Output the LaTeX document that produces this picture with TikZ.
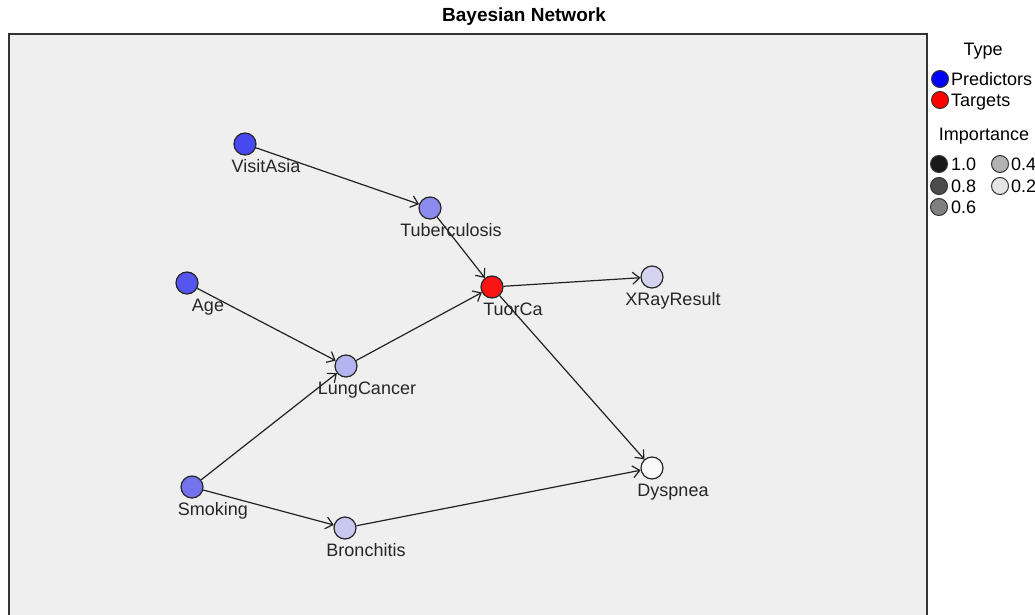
\documentclass[tikz,border=0pt]{standalone}
\usepackage{fontspec}
\setmainfont{Liberation Sans}
\usepackage{tikz}
\usetikzlibrary{arrows.meta}

\definecolor{panelgrey}{RGB}{239,239,239}
\definecolor{edgegrey}{RGB}{34,34,34}
\definecolor{visitasiacol}{RGB}{72,72,240}
\definecolor{agecol}{RGB}{85,85,240}
\definecolor{smokingcol}{RGB}{115,115,235}
\definecolor{tubercol}{RGB}{140,140,240}
\definecolor{lungcol}{RGB}{180,180,240}
\definecolor{bronchcol}{RGB}{200,200,240}
\definecolor{xraycol}{RGB}{212,212,240}
\definecolor{dyspcol}{RGB}{250,250,250}
\definecolor{tuorcacol}{RGB}{250,20,20}

\tikzset{
 bnode/.style={circle, draw=black!85, line width=1.2pt, minimum size=22pt, inner sep=0pt},
 bname/.style={font=\fontsize{18}{18}\selectfont, text=black!85, inner sep=0pt, text height=13pt, text depth=4pt, xshift=21pt, label distance=4pt},
 dep/.style={draw=edgegrey, line width=1.2pt, -{Straight Barb[length=7pt,width=12pt]}},
 keydot/.style={circle, draw=black!80, line width=1pt, minimum size=17pt, inner sep=0pt},
 keytxt/.style={font=\fontsize{18}{18}\selectfont, anchor=base west, inner sep=0pt},
 keyhead/.style={font=\fontsize{18}{18}\selectfont, inner sep=0pt}
}

\begin{document}
\begin{tikzpicture}[x=1pt, y=-1pt]
 \useasboundingbox (0,0) rectangle (1035,615);
 \clip (0,0) rectangle (1035,615);
 \fill[white] (0,0) rectangle (1035,615);

 % title and panel
 \node[font=\bfseries\fontsize{19}{19}\selectfont] (title) at (524,17) {Bayesian Network};
 \draw[fill=panelgrey, draw=black!80, line width=1.5pt] (9,34) rectangle (927,640);

 % network
 \node[bnode, fill=visitasiacol, label={[bname]below:VisitAsia}] (visitasia) at (245,144) {};
 \node[bnode, fill=tubercol, label={[bname]below:Tuberculosis}] (tuber) at (430,208) {};
 \node[bnode, fill=agecol, label={[bname]below:Age}] (age) at (187,283) {};
 \node[bnode, fill=tuorcacol, label={[bname]below:TuorCa}] (tuorca) at (492,287) {};
 \node[bnode, fill=xraycol, label={[bname]below:XRayResult}] (xray) at (652,277) {};
 \node[bnode, fill=lungcol, label={[bname]below:LungCancer}] (lung) at (346,366) {};
 \node[bnode, fill=smokingcol, label={[bname]below:Smoking}] (smoking) at (192,487) {};
 \node[bnode, fill=bronchcol, label={[bname]below:Bronchitis}] (bronch) at (345,528) {};
 \node[bnode, fill=dyspcol, label={[bname]below:Dyspnea}] (dysp) at (652,468) {};

 \draw[dep] (visitasia) -- (tuber);
 \draw[dep] (tuber) -- (tuorca);
 \draw[dep] (age) -- (lung);
 \draw[dep] (lung) -- (tuorca);
 \draw[dep] (smoking) -- (lung);
 \draw[dep] (smoking) -- (bronch);
 \draw[dep] (tuorca) -- (xray);
 \draw[dep] (tuorca) -- (dysp);
 \draw[dep] (bronch) -- (dysp);

 % legend
 \node[keyhead] (typehead) at (983,51) {Type};
 \node[keydot, fill=blue] (predkey) at (940,79) {};
 \node[keytxt] (predtxt) at (951,85.5) {Predictors};
 \node[keydot, fill=red] (targkey) at (940,100) {};
 \node[keytxt] (targtxt) at (951,106.5) {Targets};
 \node[keyhead] (imphead) at (984,136) {Importance};
 \node[keydot, fill=black!90] (imp10) at (939,164) {};
 \node[keytxt] (imp10txt) at (951,170.5) {1.0};
 \node[keydot, fill=black!70] (imp08) at (939,186) {};
 \node[keytxt] (imp08txt) at (951,192.5) {0.8};
 \node[keydot, fill=black!50] (imp06) at (939,207) {};
 \node[keytxt] (imp06txt) at (951,213.5) {0.6};
 \node[keydot, fill=black!30] (imp04) at (1000,164) {};
 \node[keytxt] (imp04txt) at (1011,170.5) {0.4};
 \node[keydot, fill=black!10] (imp02) at (1000,186) {};
 \node[keytxt] (imp02txt) at (1011,192.5) {0.2};
\end{tikzpicture}
\end{document}
